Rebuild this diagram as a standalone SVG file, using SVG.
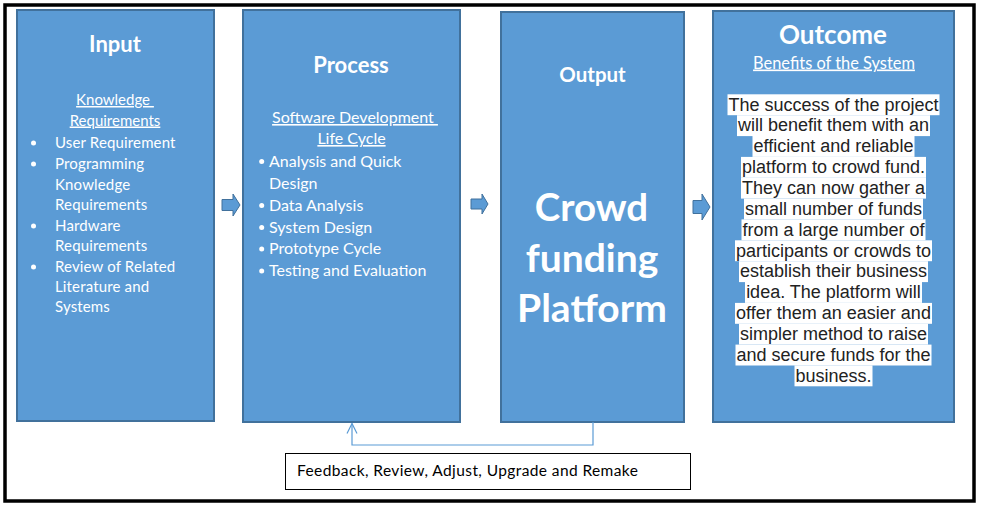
<svg xmlns="http://www.w3.org/2000/svg" width="981" height="508" viewBox="0 0 981 508">
<defs>
<style>
.box{fill:#5b9bd5;stroke:#41719c;stroke-width:2}
.title{font-family:Lato,"Liberation Sans",sans-serif;font-weight:bold;fill:#fff;text-anchor:middle}
.sub{font-family:Lato,"Liberation Sans",sans-serif;fill:#fff;text-anchor:middle;text-decoration:underline;white-space:pre}
.item{font-family:Lato,"Liberation Sans",sans-serif;fill:#fff}
.dot{fill:#fff}
.body{font-family:"Liberation Sans",Arial,sans-serif;font-size:18px;fill:#222;text-anchor:middle}
.hl{fill:#fff}
.arrow{fill:#5b9bd5;stroke:#41719c;stroke-width:1}
.conn{fill:none;stroke:#5b9bd5;stroke-width:1.2}
</style>
<marker id="open" viewBox="0 0 12 12" refX="11" refY="6" markerWidth="12" markerHeight="12" markerUnits="userSpaceOnUse" orient="auto">
<path d="M1,1 L11,6 L1,11" fill="none" stroke="#5b9bd5" stroke-width="1.2"/>
</marker>
</defs>
<rect x="0" y="0" width="981" height="508" fill="#fff"/>
<rect x="5" y="5" width="969" height="496" fill="none" stroke="#000" stroke-width="3.5"/>

<g id="input">
<rect class="box" x="17" y="10" width="197" height="411"/>
<text class="title" x="115" y="52" font-size="22">Input</text>
<text class="sub" x="115" y="105" font-size="15">Knowledge </text>
<text class="sub" x="115" y="125.5" font-size="15">Requirements</text>
<circle class="dot" cx="33.5" cy="143" r="2.5"/>
<circle class="dot" cx="33.5" cy="164" r="2.5"/>
<circle class="dot" cx="33.5" cy="226" r="2.5"/>
<circle class="dot" cx="33.5" cy="267" r="2.5"/>
<text class="item" font-size="15" x="55" y="148" letter-spacing="0.15">User Requirement</text>
<text class="item" font-size="15" x="55" y="169" letter-spacing="0.15">Programming</text>
<text class="item" font-size="15" x="55" y="189.5" letter-spacing="0.15">Knowledge</text>
<text class="item" font-size="15" x="55" y="210" letter-spacing="0.15">Requirements</text>
<text class="item" font-size="15" x="55" y="230.5" letter-spacing="0.15">Hardware</text>
<text class="item" font-size="15" x="55" y="251" letter-spacing="0.15">Requirements</text>
<text class="item" font-size="15" x="55" y="271.5" letter-spacing="0.15">Review of Related</text>
<text class="item" font-size="15" x="55" y="292" letter-spacing="0.15">Literature and</text>
<text class="item" font-size="15" x="55" y="312" letter-spacing="0.15">Systems</text>
</g>

<g id="process">
<rect class="box" x="243" y="10" width="217" height="412"/>
<text class="title" x="351" y="73" font-size="22">Process</text>
<text class="sub" x="355" y="123" font-size="16">Software Development </text>
<text class="sub" x="351.5" y="144" font-size="16">Life Cycle</text>
<circle class="dot" cx="261.7" cy="161.5" r="2.5"/>
<circle class="dot" cx="261.7" cy="205.5" r="2.5"/>
<circle class="dot" cx="261.7" cy="227.5" r="2.5"/>
<circle class="dot" cx="261.7" cy="249" r="2.5"/>
<circle class="dot" cx="261.7" cy="271" r="2.5"/>
<text class="item" font-size="16" x="269" y="166.5">Analysis and Quick</text>
<text class="item" font-size="16" x="269" y="188.5">Design</text>
<text class="item" font-size="16" x="269" y="210.5">Data Analysis</text>
<text class="item" font-size="16" x="269" y="232.5">System Design</text>
<text class="item" font-size="16" x="269" y="254">Prototype Cycle</text>
<text class="item" font-size="16" x="269" y="276">Testing and Evaluation</text>
</g>

<g id="output">
<rect class="box" x="501" y="12" width="183" height="410"/>
<text class="title" x="592.5" y="82" font-size="20.5">Output</text>
<text class="title" x="591.5" y="221" font-size="38.5">Crowd</text>
<text class="title" x="592" y="271.5" font-size="39">funding</text>
<text class="title" x="592" y="322" font-size="39">Platform</text>
</g>

<g id="outcome">
<rect class="box" x="713" y="11" width="241" height="411"/>
<text class="title" x="833" y="43.5" font-size="26">Outcome</text>
<text class="sub" x="834" y="68.5" font-size="16.4">Benefits of the System</text>
<g>
<rect class="hl" x="727.5" y="94.3" width="212" height="20.9"/>
<rect class="hl" x="737" y="115.2" width="193" height="20.9"/>
<rect class="hl" x="752.5" y="136" width="162" height="20.9"/>
<rect class="hl" x="741" y="156.9" width="185" height="20.9"/>
<rect class="hl" x="741" y="177.7" width="185" height="20.9"/>
<rect class="hl" x="744" y="198.6" width="179" height="20.9"/>
<rect class="hl" x="741.5" y="219.4" width="184" height="20.9"/>
<rect class="hl" x="735" y="240.3" width="197" height="20.9"/>
<rect class="hl" x="739" y="261.2" width="189" height="20.9"/>
<rect class="hl" x="745" y="282" width="177" height="20.9"/>
<rect class="hl" x="735" y="302.9" width="197" height="20.9"/>
<rect class="hl" x="739" y="323.7" width="189" height="20.9"/>
<rect class="hl" x="735.5" y="344.6" width="196" height="20.9"/>
<rect class="hl" x="794.5" y="365.4" width="78" height="20.9"/>
</g>
<text class="body" x="833.5" y="110.5">The success of the project</text>
<text class="body" x="833.5" y="131.4">will benefit them with an</text>
<text class="body" x="833.5" y="152.2">efficient and reliable</text>
<text class="body" x="833.5" y="173.1">platform to crowd fund.</text>
<text class="body" x="833.5" y="193.9">They can now gather a</text>
<text class="body" x="833.5" y="214.8">small number of funds</text>
<text class="body" x="833.5" y="235.7">from a large number of</text>
<text class="body" x="833.5" y="256.5">participants or crowds to</text>
<text class="body" x="833.5" y="277.4">establish their business</text>
<text class="body" x="833.5" y="298.2">idea. The platform will</text>
<text class="body" x="833.5" y="319.1">offer them an easier and</text>
<text class="body" x="833.5" y="339.9">simpler method to raise</text>
<text class="body" x="833.5" y="360.8">and secure funds for the</text>
<text class="body" x="833.5" y="381.7">business.</text>
</g>

<g id="feedback">
<rect x="285.5" y="453.5" width="405" height="36" fill="#fff" stroke="#000" stroke-width="1"/>
<text font-family="Lato,'Liberation Sans',sans-serif" font-size="15.5" letter-spacing="0.4" fill="#000" x="297" y="475.5">Feedback, Review, Adjust, Upgrade and Remake</text>
</g>

<g id="connectors">
<path class="arrow" d="M222,199.5 H233 V194 L240,205 L233,216 V210.5 H222 Z"/>
<path class="arrow" d="M471,199 H482 V194 L488,204 L482,214 V209 H471 Z"/>
<path class="arrow" d="M693,200.5 H702 V194 L710,207 L702,220 V213.5 H693 Z"/>
<path class="conn" d="M593,422 V445 H352 V423.5" marker-end="url(#open)"/>
</g>
</svg>
